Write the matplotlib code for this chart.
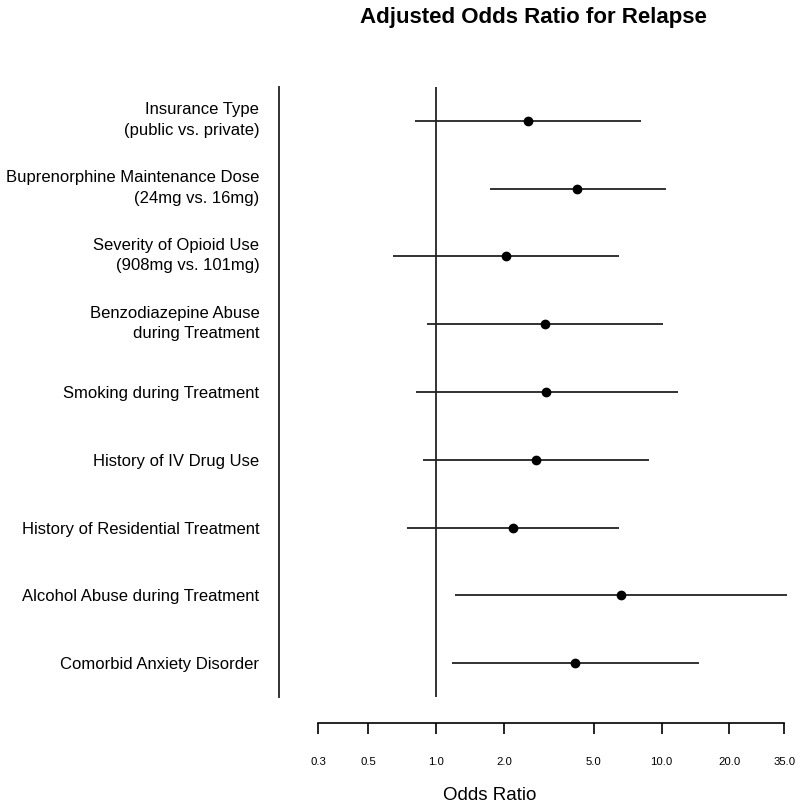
import numpy as np
import matplotlib
matplotlib.use('Agg')
import matplotlib.pyplot as plt
import matplotlib.transforms as mtransforms

plt.rcParams['font.family'] = ['Liberation Sans', 'DejaVu Sans']

# predictors, top to bottom
labels = ['Insurance Type\n(public vs. private)',
          'Buprenorphine Maintenance Dose\n(24mg vs. 16mg)',
          'Severity of Opioid Use\n(908mg vs. 101mg)',
          'Benzodiazepine Abuse\nduring Treatment',
          'Smoking during Treatment',
          'History of IV Drug Use',
          'History of Residential Treatment',
          'Alcohol Abuse during Treatment',
          'Comorbid Anxiety Disorder']
odds = [2.56, 4.23, 2.04, 3.05, 3.09, 2.77, 2.20, 6.63, 4.15]
ci_low = [0.81, 1.73, 0.647, 0.914, 0.818, 0.874, 0.743, 1.22, 1.18]
ci_high = [8.10, 10.5, 6.47, 10.2, 11.8, 8.77, 6.49, 36.1, 14.6]
tick_vals = [0.3, 0.5, 1.0, 2.0, 5.0, 10.0, 20.0, 35.0]

W, H = 800, 809
fig = plt.figure(figsize=(W / 100, H / 100), dpi=100)

x_left, x_right = 278.7, 790
y_top, y_bot = 87, 697
px_dec = 225.5
x_one = 436.0
xmin = 10 ** ((x_left - x_one) / px_dec)
xmax = 10 ** ((x_right - x_one) / px_dec)

ax = fig.add_axes([x_left / W, 1 - y_bot / H, (x_right - x_left) / W, (y_bot - y_top) / H])
n = len(labels)
ypos = np.arange(n, 0, -1)

ax.hlines(ypos, ci_low, ci_high, color='#222222', lw=1.3, zorder=2)
ax.plot(odds, ypos, 'o', color='black', ms=6, zorder=3)
ax.axvline(1.0, color='#333333', lw=1.4, zorder=1)

ax.set_xscale('log')
ax.set_xlim(xmin, xmax)
ax.set_ylim(0.5, n + 0.5)
ax.set_yticks(ypos)
ax.set_yticklabels(labels, fontsize=12, linespacing=1.45)
ax.tick_params(axis='y', length=0, pad=14)
# two-line labels sit a bit higher in the original
shift = mtransforms.ScaledTranslation(0, 5 / 100, fig.dpi_scale_trans)
for t in ax.get_yticklabels():
    if '\n' in t.get_text():
        t.set_transform(t.get_transform() + shift)
ax.set_xticks([])
ax.minorticks_off()
for s in ['top', 'right', 'bottom']:
    ax.spines[s].set_visible(False)
ax.spines['left'].set_linewidth(1.4)
ax.spines['left'].set_color('#333333')

# separate odds ratio axis below
y_axis = 722.7
bx = fig.add_axes([x_left / W, 1 - y_axis / H, (x_right - x_left) / W, 0.001])
bx.set_xscale('log')
bx.set_xlim(xmin, xmax)
bx.set_yticks([])
bx.minorticks_off()
bx.set_xticks(tick_vals)
bx.set_xticklabels([f'{v:.1f}' for v in tick_vals], fontsize=8.2)
bx.tick_params(axis='x', direction='out', length=8, width=1.2, pad=17)
for s in ['top', 'right', 'left']:
    bx.spines[s].set_visible(False)
bx.spines['bottom'].set_bounds(tick_vals[0], tick_vals[-1])
bx.spines['bottom'].set_linewidth(1.2)
bx.patch.set_visible(False)

fig.text(490 / W, 1 - 796 / H, 'Odds Ratio', fontsize=13.5, ha='center', va='center')
fig.text(533 / W, 1 - 18 / H, 'Adjusted Odds Ratio for Relapse', fontsize=16,
         fontweight='bold', ha='center', va='center')

fig.savefig('out.png', dpi=100)
